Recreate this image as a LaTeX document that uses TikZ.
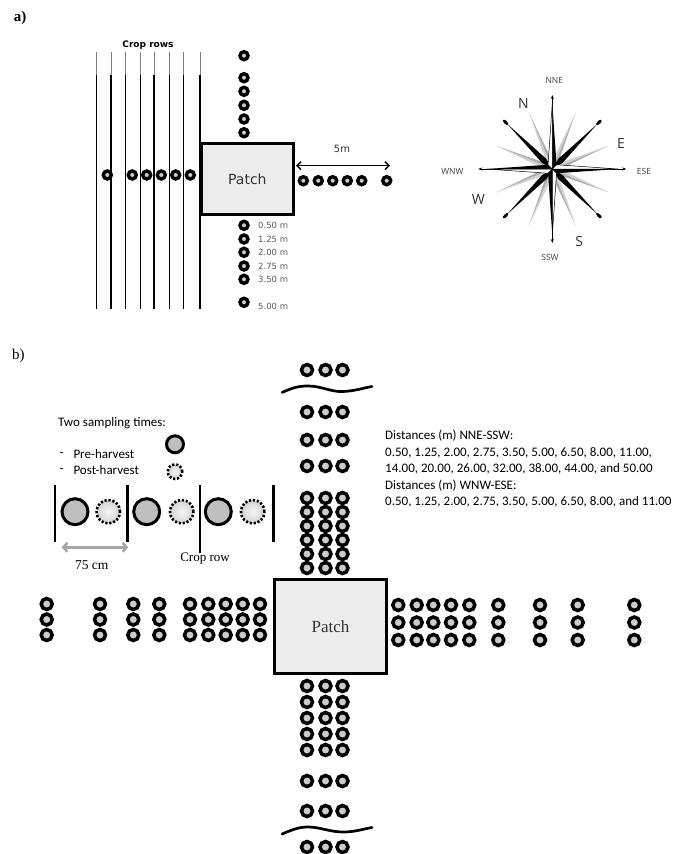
\documentclass[tikz,border=0pt]{standalone}
\usepackage{fontspec}
\setmainfont{Liberation Serif}
\newfontfamily\verdfont{DejaVu Sans}
\newfontfamily\calfont{Carlito}
\newfontfamily\rosefont{Open Sans}
\usetikzlibrary{arrows.meta,calc}

\begin{document}
\begin{tikzpicture}[x=1pt, y=-1pt,
    ringa/.style={circle, draw=black, line width=3.4pt, fill=gray!40, inner sep=0pt, minimum size=8pt},
    ringb/.style={circle, draw=black, line width=3.5pt, fill=gray!40, inner sep=0pt, minimum size=11pt},
    preharv/.style={circle, draw=black, line width=3pt, fill=gray!50, inner sep=0pt},
    postharv/.style={circle, draw=black, line width=2.6pt, dash pattern=on 2.2pt off 1.8pt, inner color=gray!8, outer color=gray!35, inner sep=0pt},
    patchbox/.style={draw=black, line width=3pt, fill=gray!15, anchor=north west},
    croprow/.style={line width=1.3pt},
    distlabel/.style={font=\verdfont\fontsize{8.5}{10}\selectfont, text=black!65, anchor=west, inner sep=0pt},
    rosebig/.style={font=\rosefont\fontsize{14}{16}\selectfont, text=black!80},
    rosesmall/.style={font=\rosefont\fontsize{8.5}{10}\selectfont, text=black!75},
    calib/.style={font=\calfont\fontsize{13}{16.5}\selectfont, anchor=west, inner sep=0pt},
    wavy/.style={line width=2.7pt, line cap=round}
]

    \useasboundingbox (0,0) rectangle (675,854);

    % ---------- a) ----------
    \node[font=\bfseries\fontsize{15}{18}\selectfont] (lab-a) at (20,18) {a)};

    % 作物列
    \foreach \x in {96.7,111,125.7,140.3,154,169.3,183.7,200} {
        \draw[line width=0.8pt, black!50] (\x,52) -- (\x,75);
        \draw[croprow] (\x,75) -- (\x,309);
    }
    \node[font=\verdfont\bfseries\fontsize{9}{11}\selectfont] (crop-rows) at (148,45) {Crop rows};

    % パッチ
    \node[patchbox, minimum width=91.7pt, minimum height=70.7pt,
          font=\verdfont\fontsize{14}{16}\selectfont, text=black!80] (patch-a) at (200,142.3) {Patch};

    % 採集点
    \foreach \y [count=\i] in {55.7,77.7,91.3,105.3,119,132.7} {
        \node[ringa] (a-n\i) at (244,\y) {};
    }
    \foreach \y/\ly/\t [count=\i] in {225.3/225.3/0.50,239/239/1.25,252.3/252.3/2.00,266/266/2.75,279.3/279.3/3.50,302.3/306.7/5.00} {
        \node[ringa] (a-s\i) at (244,\y) {};
        \node[distlabel] (a-s\i-lab) at (258,\ly) {\t\ m};
    }
    \foreach \x [count=\i] in {107.3,132.3,146.7,161.3,175.7,190.3} {
        \node[ringa] (a-w\i) at (\x,175) {};
    }
    \foreach \x [count=\i] in {303.3,318.3,332.7,347.3,361.7,386.7} {
        \node[ringa] (a-e\i) at (\x,180.7) {};
    }

    % 5m
    \coordinate (a-arr-l) at (296,165.7);
    \coordinate (a-arr-r) at (390,165.7);
    \draw[{Straight Barb[length=4pt,width=8pt]}-{Straight Barb[length=4pt,width=8pt]}, line width=1.4pt] (a-arr-l) -- (a-arr-r);
    \node[font=\verdfont\fontsize{10}{12}\selectfont, text=black!80] (a-5m) at (342,149) {5m};

    % 方位図
    \coordinate (rose) at (552.3,169);
    \foreach \a in {22.5,67.5,...,337.5} {
        \fill[gray!65] (rose) -- ($(rose)+(\a+12:13)$) -- ($(rose)+(\a:61)$) -- cycle;
        \fill[gray!35] (rose) -- ($(rose)+(\a-12:13)$) -- ($(rose)+(\a:61)$) -- cycle;
    }
    \foreach \a in {45,135,225,315} {
        \fill (rose) -- ($(rose)+(\a+14:12)$) -- ($(rose)+(\a:64)$) -- ($(rose)+(\a-14:12)$) -- cycle;
        \coordinate (tip-\a) at ($(rose)+(\a:66)$);
        \fill[rotate around={-\a:(tip-\a)}] (tip-\a) ellipse (3.5 and 1.6);
    }
    \foreach \a in {0,90,180,270} {
        \draw[line width=0.7pt, -{Stealth[length=4pt,width=3pt]}] ($(rose)+(\a:58)$) -- ($(rose)+(\a:74)$);
        \filldraw[fill=white, line width=0.5pt] (rose) -- ($(rose)+(\a:66)$) -- ($(rose)+(\a-45:6)$) -- cycle;
        \fill (rose) -- ($(rose)+(\a:66)$) -- ($(rose)+(\a+45:6)$) -- cycle;
    }
    \node[rosesmall] (r-nne) at (554.3,80.7) {NNE};
    \node[rosesmall] (r-ese) at (644,171.7) {ESE};
    \node[rosesmall] (r-ssw) at (550,257) {SSW};
    \node[rosesmall, anchor=east] (r-wnw) at (467,171) {WNW};
    \node[rosebig] (r-n) at (523.3,103.3) {N};
    \node[rosebig] (r-e) at (621,143.3) {E};
    \node[rosebig] (r-w) at (478.3,199.3) {W};
    \node[rosebig] (r-s) at (579.3,241) {S};

    % ---------- b) ----------
    \node[font=\fontsize{15}{18}\selectfont] (lab-b) at (18.3,356) {b)};

    % 凡例
    \node[calib] (two-times) at (58,422.7) {Two sampling times:};
    \node[calib] (dash-pre) at (59.3,454.3) {-};
    \node[calib] (txt-pre) at (73.3,454.3) {Pre-harvest};
    \node[calib] (dash-post) at (59.3,470) {-};
    \node[calib] (txt-post) at (73.3,470) {Post-harvest};
    \node[preharv, minimum size=17pt] (key-pre) at (175,444.3) {};
    \node[postharv, minimum size=14.5pt] (key-post) at (175,471.7) {};

    % 作物列 (75 cm)
    \foreach \x/\yb in {55/542,127.7/542,200/553,273.3/542} {
        \draw[line width=2.5pt] (\x,485) -- (\x,\yb);
    }
    \foreach \x [count=\i] in {75,146.7,218.3} {
        \node[preharv, minimum size=26pt] (pre-\i) at (\x,511.7) {};
    }
    \foreach \x [count=\i] in {108.3,181.7,252.7} {
        \node[postharv, minimum size=23.5pt] (post-\i) at (\x,511.7) {};
    }
    \coordinate (w-l) at (61.7,547.3);
    \coordinate (w-r) at (128.3,547.3);
    \draw[gray!70, line width=2.5pt, {Straight Barb[length=4pt,width=9pt]}-{Straight Barb[length=4pt,width=9pt]}] (w-l) -- (w-r);
    \node[font=\fontsize{13.5}{16}\selectfont] (lab-75) at (91.7,565) {75 cm};
    \node[font=\fontsize{13}{16}\selectfont] (lab-row) at (205,558.3) {Crop row};

    % パッチ
    \node[patchbox, line width=3.5pt, minimum width=112.1pt, minimum height=93.8pt,
          font=\fontsize{17}{20}\selectfont, text=black!80] (patch-b) at (272.7,577.7) {Patch};

    % NNE-SSW の採集点
    \foreach \y [count=\j] in {370,412,440,466,498,512,526,540,554,568} {
        \foreach \x [count=\i] in {307,325.5,342.5} {
            \node[ringb] (bn-\j-\i) at (\x,\y) {};
        }
    }
    \foreach \y [count=\j] in {686,702,718,734,750,781,811,847} {
        \foreach \x [count=\i] in {307,325.5,342.5} {
            \node[ringb] (bs-\j-\i) at (\x,\y) {};
        }
    }

    % WNW-ESE の採集点
    \foreach \x [count=\j] in {46.7,100,133.3,159.3,190,208.3,225.7,242.7,260} {
        \foreach \y [count=\i] in {604,619.5,635} {
            \node[ringb] (bw-\j-\i) at (\x,\y) {};
        }
    }
    \foreach \x [count=\j] in {398.3,416.7,433.3,451,469.3,498.3,540,577.7,634.3} {
        \foreach \y [count=\i] in {605,622.5,640} {
            \node[ringb] (be-\j-\i) at (\x,\y) {};
        }
    }

    % 省略線
    \draw[wavy] (282,392.5) .. controls (292,388) and (298,386) .. (308,386)
        .. controls (322,386) and (330,392) .. (343,391.5)
        .. controls (355,391) and (363,388) .. (372,386.5);
    \draw[wavy] (282,834) .. controls (292,830) and (298,827) .. (308,827)
        .. controls (320,827) and (330,832) .. (343,832)
        .. controls (355,832) and (363,829) .. (372,827.5);

    % 距離
    \node[calib, anchor=north west, align=left] (dist-txt) at (385,430)
        {Distances (m) NNE-SSW:\\
         0.50, 1.25, 2.00, 2.75, 3.50, 5.00, 6.50, 8.00, 11.00,\\
         14.00, 20.00, 26.00, 32.00, 38.00, 44.00, and 50.00\\
         Distances (m) WNW-ESE:\\
         0.50, 1.25, 2.00, 2.75, 3.50, 5.00, 6.50, 8.00, and 11.00};

\end{tikzpicture}
\end{document}
